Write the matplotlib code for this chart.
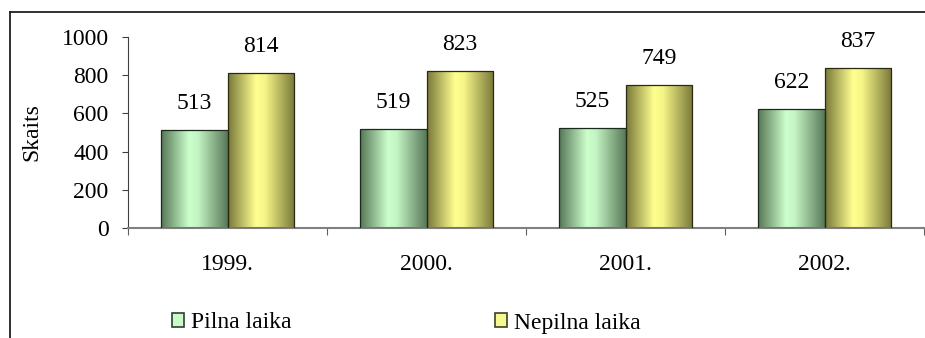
import matplotlib.pyplot as plt
import numpy as np
from matplotlib.colors import LinearSegmentedColormap
from matplotlib.patches import Rectangle
from matplotlib.lines import Line2D

years = ["1999.", "2000.", "2001.", "2002."]
pilna = [513, 519, 525, 622]
nepilna = [814, 823, 749, 837]
series_names = ["Pilna laika", "Nepilna laika"]

plt.rcParams['font.family'] = ['Liberation Serif', 'DejaVu Serif']
plt.rcParams['font.size'] = 17

green_cm = LinearSegmentedColormap.from_list(
    "g", [(0, "#567656"), (0.42, "#ccffcc"), (0.55, "#c4f4c4"), (1, "#587858")])
yellow_cm = LinearSegmentedColormap.from_list(
    "y", [(0, "#78783a"), (0.42, "#ffff90"), (0.55, "#f6f688"), (1, "#78783a")])

fig = plt.figure(figsize=(9.25, 3.38), dpi=100)
ax = fig.add_axes([128 / 925, 110 / 338, 796 / 925, 191 / 338])

x = np.arange(len(years))
w = 0.335
b1 = ax.bar(x - w / 2, pilna, w, facecolor="none", edgecolor="#1a2a1a", linewidth=0.9, zorder=3)
b2 = ax.bar(x + w / 2, nepilna, w, facecolor="none", edgecolor="#2a2a10", linewidth=0.9, zorder=3)

# cilindra efekts - gradients katram stabiņam
grad = np.linspace(0, 1, 256).reshape(1, -1)
for bars, cm in ((b1, green_cm), (b2, yellow_cm)):
    for r in bars:
        x0, y0 = r.get_x(), r.get_y()
        im = ax.imshow(grad, cmap=cm, aspect="auto", zorder=2,
                       extent=(x0, x0 + r.get_width(), y0, y0 + r.get_height()))
        im.set_clip_path(r)

for bars, vals in ((b1, pilna), (b2, nepilna)):
    for r, v in zip(bars, vals):
        ax.annotate(str(v), (r.get_x() + r.get_width() / 2, v), xytext=(0, 19),
                    textcoords="offset points", ha="center", va="center", fontsize=17)

ax.set_xlim(-0.5, len(years) - 0.5)
ax.set_ylim(0, 1000)
ax.set_yticks(range(0, 1001, 200))
ax.set_xticks(np.arange(len(years) + 1) - 0.5)
ax.set_xticklabels([])
ax.set_xticks(x, minor=True)
ax.set_xticklabels(years, minor=True)
ax.tick_params(axis="x", which="major", length=5, color="#606060", direction="out")
ax.tick_params(axis="x", which="minor", length=0, pad=19)
ax.tick_params(axis="y", length=4, pad=10, color="#404040")

for s in ("top", "right"):
    ax.spines[s].set_visible(False)
ax.spines["left"].set_color("#404040")
ax.spines["bottom"].set_color("#808080")
ax.spines["bottom"].set_linewidth(1.5)

ax.set_ylabel("Skaits", fontsize=17)
ax.yaxis.set_label_coords(-0.108, 0.5)

handles = [Rectangle((0, 0), 1, 1, facecolor="#c8fcc8", edgecolor="#304030", linewidth=1.2),
           Rectangle((0, 0), 1, 1, facecolor="#f8f890", edgecolor="#404020", linewidth=1.2)]
fig.legend(handles, series_names, ncol=2, loc="center left",
           bbox_to_anchor=(172 / 925, 1 - 323 / 338), frameon=False,
           handlelength=0.51, handleheight=0.51, handletextpad=0.3,
           columnspacing=8.6, borderpad=0, borderaxespad=0, fontsize=17)

# rāmis ap diagrammu
fig.add_artist(Line2D([10 / 925, 10 / 925], [0, 1 - 12 / 338], color="#202020", lw=1.3))
fig.add_artist(Line2D([10 / 925, 1], [1 - 12 / 338, 1 - 12 / 338], color="#202020", lw=1.3))

fig.savefig("out.png", dpi=100)
